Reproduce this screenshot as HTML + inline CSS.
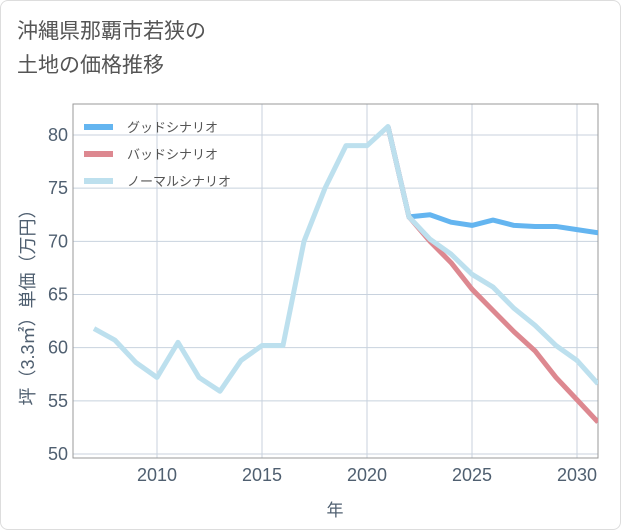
<!DOCTYPE html>
<html><head><meta charset="utf-8"><style>
body{margin:0;background:#fff;font-family:"Liberation Sans","Noto Sans CJK JP",sans-serif;}
#card{position:absolute;left:0;top:0;width:619px;height:528px;border:1px solid #ddd;border-radius:8px;background:#fff;}
#title{position:absolute;left:16px;top:14px;font-size:21px;line-height:34px;color:#555;}
</style></head><body>
<div id="card">
<div id="title">沖縄県那覇市若狭の<br>土地の価格推移</div>
<svg id="chart" width="621" height="530" style="position:absolute;left:0;top:0"></svg>
</div>
<script>
const years=[2007,2008,2009,2010,2011,2012,2013,2014,2015,2016,2017,2018,2019,2020,2021,2022,2023,2024,2025,2026,2027,2028,2029,2030,2031];
const normalVals=[61.8,60.7,58.6,57.2,60.5,57.2,55.9,58.8,60.2,60.2,70.0,75.0,79.0,79.0,80.8,72.3,70.2,68.8,66.9,65.7,63.7,62.1,60.2,58.8,56.6];
const goodYears=[2021,2022,2023,2024,2025,2026,2027,2028,2029,2030,2031];
const goodVals=[80.8,72.3,72.5,71.8,71.5,72.0,71.5,71.4,71.4,71.1,70.8];
const badVals=[80.8,72.3,70.0,68.0,65.5,63.5,61.5,59.7,57.2,55.1,53.0];
const xTicks=[2010,2015,2020,2025,2030];
const yTicks=[50,55,60,65,70,75,80];
const legendLabels=["グッドシナリオ","バッドシナリオ","ノーマルシナリオ"];
const NS="http://www.w3.org/2000/svg";
const svg=document.getElementById('chart');
const L=72,R=597,T=103,B=457;
const tc='#4f5f70';
const xs=y=>156+(y-2010)*21;
const ys=v=>453-(v-50)*10.633;
function mk(t,a){const e=document.createElementNS(NS,t);for(const k in a)e.setAttribute(k,a[k]);svg.appendChild(e);return e;}
yTicks.forEach(v=>{
 const l=mk('line',{x1:L,x2:R,y1:ys(v),y2:ys(v),stroke:'#c8d2de','stroke-width':1});
 
 
 const t=mk('text',{x:67,y:ys(v)+6,'text-anchor':'end','font-size':18,fill:tc});
 t.textContent=v;
 
 
});
xTicks.forEach(y=>{
 const l=mk('line',{x1:xs(y),x2:xs(y),y1:T,y2:B,stroke:'#c8d2de','stroke-width':1});
 
 
 const t=mk('text',{x:xs(y),y:480,'text-anchor':'middle','font-size':18,fill:tc});
 t.textContent=y;
 
 
});
const fr=mk('rect',{x:L,y:T,width:R-L,height:B-T,fill:'none',stroke:'#999','stroke-width':1});


const defs=mk('defs',{});
const cp=document.createElementNS(NS,'clipPath');cp.setAttribute('id','cp');defs.appendChild(cp);
const cr=document.createElementNS(NS,'rect');cr.setAttribute('x',L);cr.setAttribute('y',T);cr.setAttribute('width',R-L);cr.setAttribute('height',B-T);cp.appendChild(cr);
function line(xv,yv,color,name){
 const p=mk('polyline',{points:xv.map((x,i)=>xs(x)+','+ys(yv[i])).join(' '),fill:'none',stroke:color,'stroke-width':5,'stroke-linejoin':'round','clip-path':'url(#cp)'});
 
 
}
line(goodYears,goodVals,'#64b5f0','good-scenario-line');
line(goodYears,badVals,'#dd8890','bad-scenario-line');
line(years,normalVals,'#bde0ee','normal-scenario-line');
const lc=['#64b5f0','#dd8890','#bde0ee'];
legendLabels.forEach((s,i)=>{
 const y=126+i*27;
 const l=mk('line',{x1:83,x2:112,y1:y,y2:y,stroke:lc[i],'stroke-width':6});
 
 
 const t=mk('text',{x:126,y:y+5,'font-size':13,fill:'#555'});
 t.textContent=s;
 
 
});
const xt=mk('text',{x:334,y:515,'text-anchor':'middle','font-size':17,fill:tc});
xt.textContent='年';


const yt=mk('text',{x:0,y:0,'text-anchor':'middle','font-size':18,fill:tc,transform:'translate(33,302) rotate(-90)'});
yt.textContent='坪（3.3㎡）単価（万円）';


</script>
</body></html>
